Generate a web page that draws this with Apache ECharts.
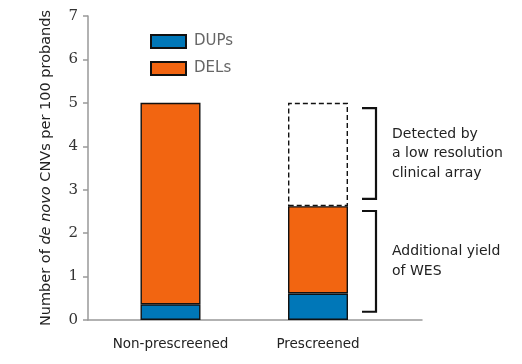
<!DOCTYPE html>
<html>
<head>
<meta charset="utf-8">
<script src="https://cdn.jsdelivr.net/npm/echarts@6/dist/echarts.min.js"></script>
<style>html,body{margin:0;padding:0;background:#fff}#c{width:522px;height:364px}</style>
</head>
<body>
<div id="c"></div>
<script>
const categories = ['Non-prescreened', 'Prescreened'];
const dups = [0.36, 0.61];
const dels = [4.64, 2.01];
const arrayOnly = [0, 2.38];
const yTicks = [0, 1, 2, 3, 4, 5, 6, 7];
// bracket ranges: [categoryIndex, top, bottom]
const brackets = [[1, 4.88, 2.79], [1, 2.51, 0.19]];
const bracketLabels = ['Detected by\na low resolution\nclinical array', 'Additional yield\nof WES'];

const FONT = 'DejaVu Sans';
const chart = echarts.init(document.getElementById('c'));
const border = { borderColor: '#111', borderWidth: 1.4 };
chart.setOption({
  animation: false,
  legend: {
    data: ['DUPs', 'DELs'], orient: 'vertical', left: 145, top: 29, icon: 'rect',
    itemWidth: 35, itemHeight: 13, itemGap: 12,
    textStyle: { color: '#666', fontSize: 15, fontFamily: FONT, padding: [0, 0, 0, 3] }
  },
  grid: [
    { left: 88, right: 100, top: 16, bottom: 44 },
    { left: 96.75, width: 295, top: 16, bottom: 44 }
  ],
  xAxis: [
    { gridIndex: 0, type: 'value', min: 0, max: 1, splitLine: { show: false },
      axisLine: { show: true, lineStyle: { color: '#999', width: 1.5 } },
      axisTick: { show: false }, axisLabel: { show: false } },
    { gridIndex: 1, type: 'category', data: categories,
      axisLine: { show: false }, axisTick: { show: false },
      axisLabel: { interval: 0, margin: 17, color: '#222', fontSize: 13.5, fontFamily: FONT } }
  ],
  yAxis: [
    { gridIndex: 0, type: 'value', min: yTicks[0], max: yTicks[yTicks.length - 1], interval: 1,
      splitLine: { show: false },
      axisLine: { show: true, lineStyle: { color: '#999', width: 1.5 } },
      axisTick: { show: true, length: 5, lineStyle: { color: '#999', width: 1.5 } },
      axisLabel: { margin: 10, color: '#333', fontSize: 15, fontFamily: 'DejaVu Serif' },
      name: '{a|Number of }{i|de novo}{a| CNVs per 100 probands}',
      nameLocation: 'middle', nameGap: 34, nameRotate: 90,
      nameTextStyle: {
        rich: {
          a: { fontSize: 14.5, fontFamily: FONT, color: '#222' },
          i: { fontSize: 14.5, fontFamily: FONT, fontStyle: 'italic', color: '#222' }
        }
      } },
    { gridIndex: 1, type: 'value', min: 0, max: 7, show: false }
  ],
  series: [
    { name: 'DUPs', type: 'bar', stack: 's', xAxisIndex: 1, yAxisIndex: 1, barWidth: 60,
      data: dups, itemStyle: Object.assign({ color: '#0077B8' }, border) },
    { name: 'DELs', type: 'bar', stack: 's', xAxisIndex: 1, yAxisIndex: 1, barWidth: 60,
      data: dels, itemStyle: Object.assign({ color: '#F26511' }, border) },
    { name: 'Array', type: 'bar', stack: 's', xAxisIndex: 1, yAxisIndex: 1, barWidth: 60,
      data: arrayOnly.map(v => v === 0 ? '-' : v),
      itemStyle: { color: 'rgba(0,0,0,0)', borderColor: '#111', borderWidth: 1.4, borderType: [5, 3] } },
    { name: 'brackets', type: 'custom', xAxisIndex: 1, yAxisIndex: 1, clip: false,
      data: brackets,
      renderItem: function (params, api) {
        const p1 = api.coord([api.value(0), api.value(1)]);
        const p2 = api.coord([api.value(0), api.value(2)]);
        const x0 = p1[0] + 44, x1 = p1[0] + 58;
        return {
          type: 'group',
          children: [
            { type: 'polyline', shape: { points: [[x0, p1[1]], [x1, p1[1]], [x1, p2[1]], [x0, p2[1]]] },
              style: { stroke: '#111', lineWidth: 2.2, fill: null } },
            { type: 'text', x: p1[0] + 74, y: (p1[1] + p2[1]) / 2,
              style: { text: bracketLabels[params.dataIndex], fontSize: 14, fontFamily: FONT,
                lineHeight: 19.5, fill: '#222', verticalAlign: 'middle', align: 'left' } }
          ]
        };
      } }
  ]
});
</script>
</body>
</html>
